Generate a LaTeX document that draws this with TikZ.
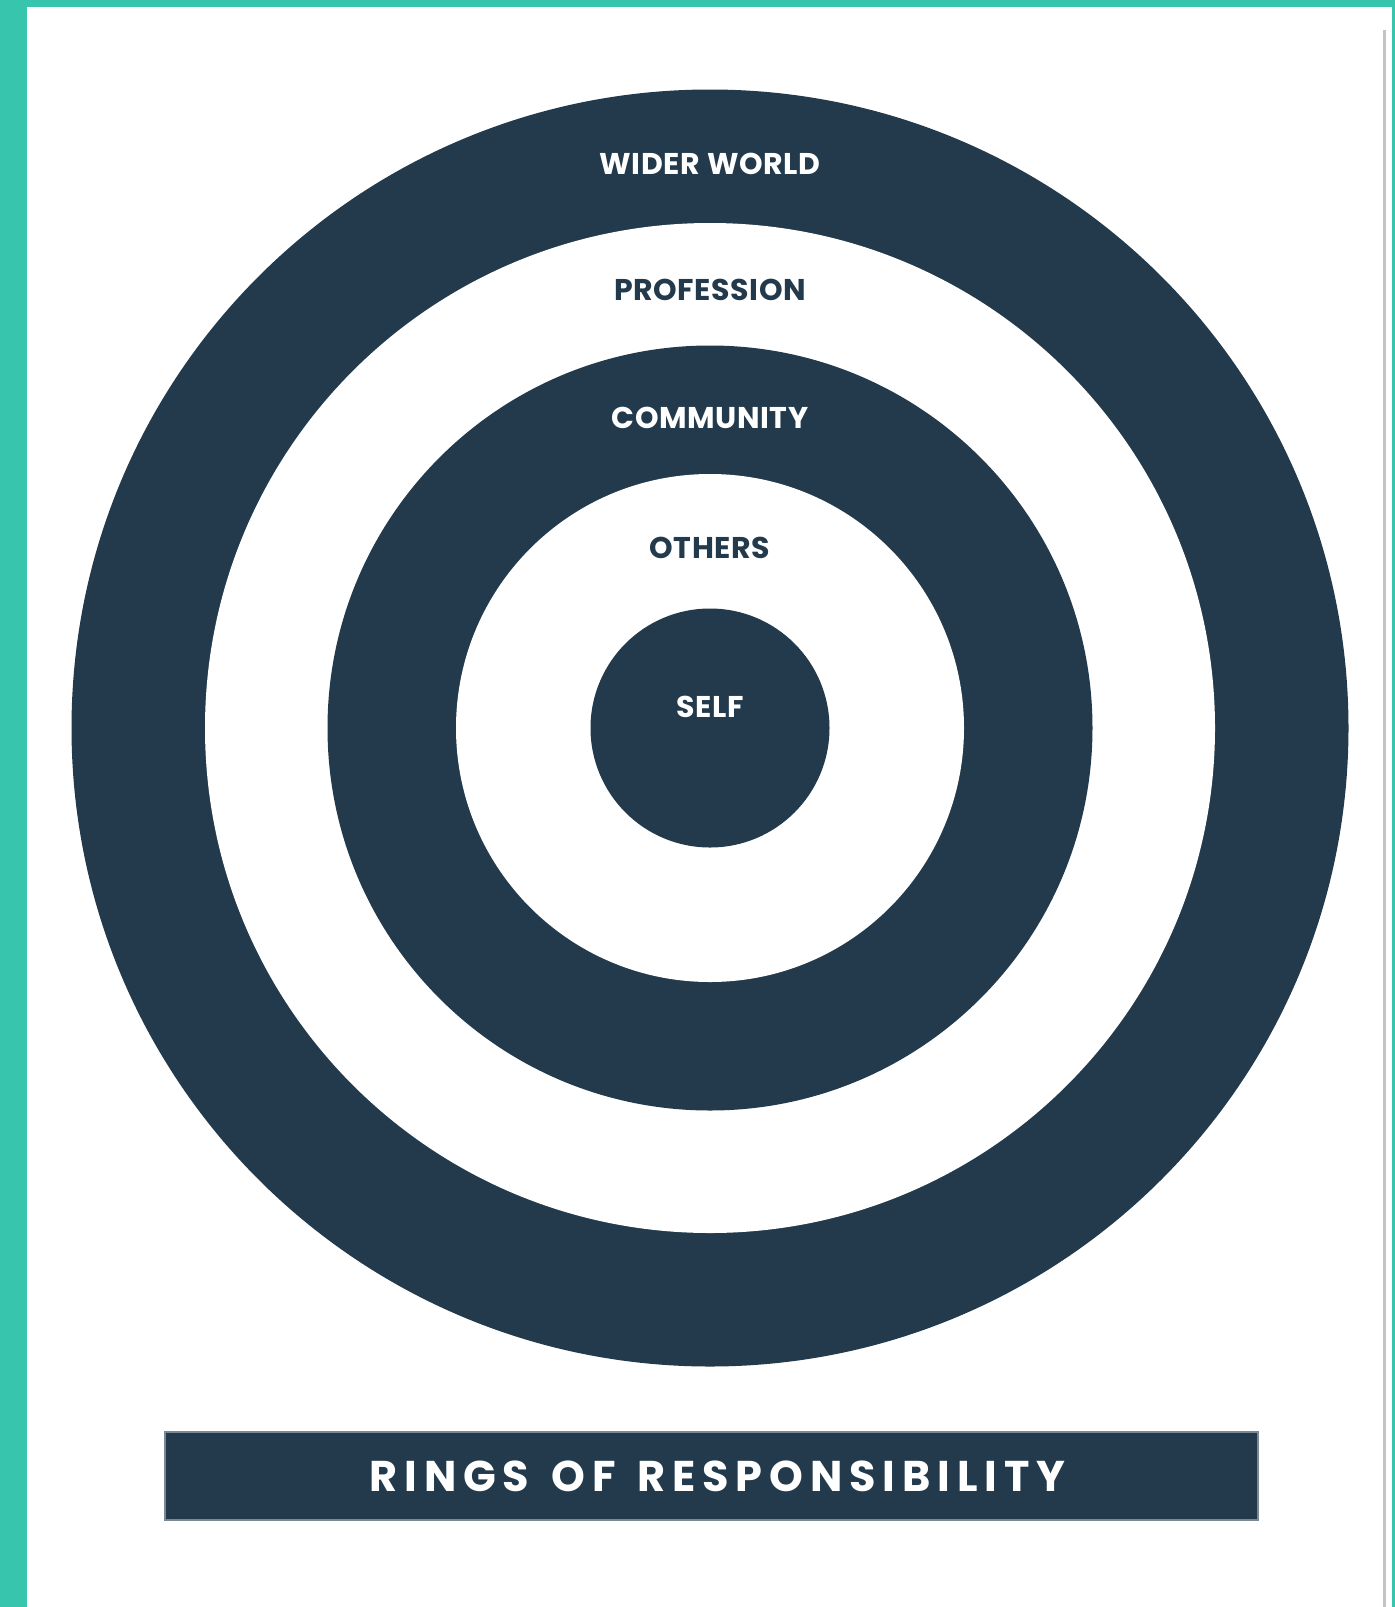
\documentclass[tikz,border=0pt]{standalone}
\usepackage{fontspec}
\setmainfont{Poppins}[UprightFont=*-Bold,BoldFont=*-Bold]
\definecolor{navy}{HTML}{223A4B}
\definecolor{teal}{HTML}{37C6AD}
\definecolor{rule}{HTML}{C4C4C4}
\begin{document}
\begin{tikzpicture}[x=0.5pt,y=-0.5pt,
  lbl/.style={inner sep=0pt,font=\fontsize{15}{18}\selectfont\addfontfeature{LetterSpace=2}},
  onDark/.style={lbl,text=white},
  onLight/.style={lbl,text=navy}]
\useasboundingbox (0,0) rectangle (1395,1607);
\fill[white] (0,0) rectangle (1395,1607);
% frame
\fill[teal] (0,0) rectangle (27,1607);
\fill[teal] (0,0) rectangle (1395,7);
\fill[teal] (1392,0) rectangle (1395,1607);
\fill[rule] (1383,30) rectangle (1386,1607);
% rings
\coordinate (c) at (710,728);
\fill[navy] (c) circle[radius=638.5];
\fill[white] (c) circle[radius=505];
\fill[navy] (c) circle[radius=382.5];
\fill[white] (c) circle[radius=254];
\fill[navy] (c) circle[radius=119.5];
% labels
\node[onDark]  (wider)  at (710,164) {WIDER WORLD};
\node[onLight] (prof)   at (710,290) {PROFESSION};
\node[onDark]  (comm)   at (710,418) {COMMUNITY};
\node[onLight] (others) at (710,548) {OTHERS};
\node[onDark]  (self)   at (710,707) {SELF};
% title
\node[fill=navy,draw=navy!60!white,line width=1pt,minimum width=546.5pt,minimum height=44pt,inner sep=0pt,anchor=north west] (box) at (164,1431) {};
\node[text=white,inner sep=0pt,font=\fontsize{21.5}{25}\selectfont\addfontfeature{LetterSpace=16}] (title) at ([xshift=3pt]box.center) {RINGS\hspace{3pt} OF\hspace{3pt} RESPONSIBILITY};
\end{tikzpicture}
\end{document}
